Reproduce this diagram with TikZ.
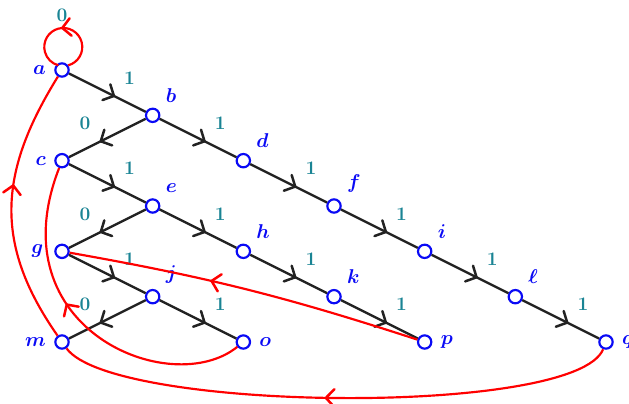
\documentclass[tikz,border=0pt]{standalone}
\usepackage{xcolor}
\definecolor{NodeBlue}{HTML}{0A0AF5}
\definecolor{EdgeTeal}{HTML}{1A8494}
\definecolor{InkGray}{HTML}{222222}
\usepackage{tikz}
\usetikzlibrary{arrows.meta,positioning,decorations.markings}
\usepackage{amsmath}
\usepackage{bm}
\newcommand\lblfont{\fontsize{11.5pt}{13pt}\selectfont}

\begin{document}
\begin{tikzpicture}[x=0.6pt,y=-0.6pt,node distance=27.2pt and 54.4pt,on grid,
>={Straight Barb[length=5pt,width=10.5pt,line width=1.5pt,line join=round,line cap=round]},
vtx/.style={circle,draw=NodeBlue,fill=white,line width=1.3pt,minimum size=8pt,inner sep=0pt},
every label/.style={text=NodeBlue,font=\lblfont},label distance=1.5pt,
bitlab/.style={text=EdgeTeal,font=\lblfont\bfseries,inner sep=0pt},
bit/.style={bitlab,above=11pt},
tedge/.style={draw=InkGray,line width=1.4pt,postaction={decorate},decoration={markings,mark=at position 0.6 with {\arrow{>}}}},
back/.style={draw=red,line width=1.3pt,postaction={decorate},decoration={markings,mark=at position #1 with {\arrow{>}}}},
back/.default=0.55]
\useasboundingbox (0,0) rectangle (629,403);
\node[vtx,label={left:$\bm{a}$}] (a) at (62,70) {};
\node[vtx,below right=of a,label={above right:$\bm{b}$}] (b) {};
\node[vtx,below left=of b,label={left:$\bm{c}$}] (c) {};
\node[vtx,below right=of b,label={above right:$\bm{d}$}] (d) {};
\node[vtx,below right=of c,label={above right:$\bm{e}$}] (e) {};
\node[vtx,below right=of d,label={above right:$\bm{f}$}] (f) {};
\node[vtx,below left=of e,label={[label distance=3pt]left:$\bm{g}$}] (g) {};
\node[vtx,below right=of e,label={above right:$\bm{h}$}] (h) {};
\node[vtx,below right=of f,label={above right:$\bm{i}$}] (i) {};
\node[vtx,below right=of g,label={above right:$\bm{j}$}] (j) {};
\node[vtx,below right=of h,label={above right:$\bm{k}$}] (k) {};
\node[vtx,below right=of i,label={above right:$\bm{\ell}$}] (l) {};
\node[vtx,below left=of j,label={left:$\bm{m}$}] (m) {};
\node[vtx,below right=of j,label={right:$\bm{o}$}] (o) {};
\node[vtx,below right=of k,label={right:$\bm{p}$}] (p) {};
\node[vtx,below right=of l,label={right:$\bm{q}$}] (q) {};
\node[bitlab,above=33pt of a] (zero) {0};
% tree edges
\draw[tedge] (a) -- node[bit,pos=0.79]{1} (b);
\draw[tedge] (b) -- node[bit,pos=0.79]{0} (c);
\draw[tedge] (b) -- node[bit,pos=0.79]{1} (d);
\draw[tedge] (c) -- node[bit,pos=0.79]{1} (e);
\draw[tedge] (d) -- node[bit,pos=0.79]{1} (f);
\draw[tedge] (e) -- node[bit,pos=0.79]{0} (g);
\draw[tedge] (e) -- node[bit,pos=0.79]{1} (h);
\draw[tedge] (f) -- node[bit,pos=0.79]{1} (i);
\draw[tedge] (g) -- node[bit,pos=0.79]{1} (j);
\draw[tedge] (h) -- node[bit,pos=0.79]{1} (k);
\draw[tedge] (i) -- node[bit,pos=0.79]{1} (l);
\draw[tedge] (j) -- node[bit,pos=0.79]{0} (m);
\draw[tedge] (j) -- node[bit,pos=0.79]{1} (o);
\draw[tedge] (k) -- node[bit,pos=0.79]{1} (p);
\draw[tedge] (l) -- node[bit,pos=0.79]{1} (q);
% back links
\draw[back=0.52] (a.37) arc[start angle=-75,end angle=255,radius=11.4pt];
\draw[back=0.58] (m) .. controls +(-70,-100) and +(-62,100) .. (a);
\draw[back=0.58] (o) .. controls +(-72,58) and +(-66,169) .. (c);
\draw[back=0.6] (p) to[bend right=4] (g);
\draw[back=0.52] (q) .. controls +(-30,75) and +(50,70) .. (m);
\end{tikzpicture}
\end{document}
